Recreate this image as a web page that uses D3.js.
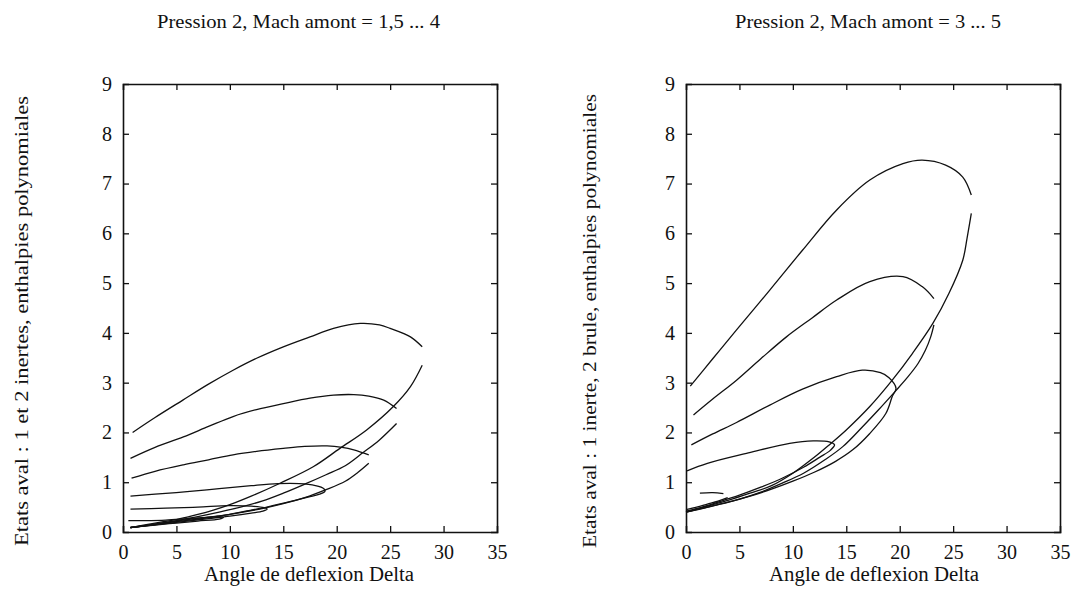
<!DOCTYPE html>
<html><head><meta charset="utf-8">
<script src="https://cdn.jsdelivr.net/npm/d3@7"></script>
<style>
html,body{margin:0;padding:0;background:#fff;}
text{font-family:"Liberation Serif","Times New Roman",serif;fill:#111;}
</style></head>
<body><svg id="chart" width="1074" height="589"></svg>
<script>
// ---------- data (deflection angle Delta, downstream state) ----------
const titleLeft = "Pression 2, Mach amont = 1,5 ... 4";
const titleRight = "Pression 2, Mach amont = 3 ... 5";
const xLabel = "Angle de deflexion Delta";
const yLabelLeft = "Etats aval : 1 et 2 inertes, enthalpies polynomiales";
const yLabelRight = "Etats aval : 1 inerte, 2 brule, enthalpies polynomiales";
const xTicks = [0, 5, 10, 15, 20, 25, 30, 35];
const yTicks = [0, 1, 2, 3, 4, 5, 6, 7, 8, 9];

// left panel: Mach 4, 3.5, 3, 2.5, 2, 1.5
const leftM4Upper = [[0.9,2.0],[3,2.3],[5.6,2.65],[8,2.97],[10.3,3.25],[12.5,3.49],[15,3.72],[17.5,3.92],[19.7,4.09],[22.2,4.19],[24,4.16],[25,4.09],[26.9,3.92],[28,3.72]];
const leftM4Lower = [[28,3.35],[26.9,2.92],[25.3,2.52],[22.8,2.05],[20.3,1.68],[17.8,1.31],[14.7,0.98],[12,0.72],[10,0.55],[8,0.41],[6,0.3],[5,0.25],[3,0.18],[0.7,0.09]];
const leftM35Upper = [[0.7,1.48],[3,1.7],[5.65,1.91],[8,2.12],[10.3,2.32],[12.5,2.46],[15,2.58],[17.5,2.69],[19.7,2.75],[21.6,2.76],[23,2.73],[24.4,2.65],[25.6,2.48]];
const leftM35Lower = [[25.6,2.18],[24,1.85],[22.5,1.6],[20.8,1.33],[19,1.15],[17,0.96],[15,0.78],[13,0.62],[11,0.5],[9,0.4],[7,0.31],[5,0.23],[3,0.16],[0.7,0.09]];
const leftM3Upper = [[0.8,1.08],[3,1.22],[5.65,1.35],[8,1.45],[10.3,1.55],[12.5,1.62],[15,1.68],[17,1.72],[19.1,1.73],[20.5,1.7],[21.6,1.65],[23,1.55]];
const leftM3Lower = [[23,1.38],[22,1.2],[20.8,1.02],[19,0.85],[17,0.69],[15,0.57],[13,0.47],[11,0.39],[9,0.32],[7,0.26],[5,0.21],[3,0.15],[0.7,0.09]];
const leftM25 = [[0.7,0.72],[3,0.76],[6,0.81],[9,0.87],[12,0.93],[14.5,0.97],[16.5,0.97],[18,0.93],[18.8,0.87],[18.9,0.82],[18.4,0.76],[17.5,0.71],[16,0.63],[14,0.53],[13,0.48],[11,0.4],[9.9,0.35],[8,0.3],[6,0.25],[4,0.19],[2,0.13],[0.7,0.09]];
const leftM2 = [[0.7,0.46],[4,0.48],[7,0.5],[9.9,0.53],[12,0.52],[13.2,0.49],[13.5,0.46],[13.1,0.42],[12,0.38],[10,0.32],[8,0.27],[6,0.22],[4,0.17],[2,0.12],[0.7,0.09]];
const leftM15 = [[0.5,0.23],[2,0.23],[4,0.24],[6,0.27],[8,0.3],[9,0.31],[9.4,0.29],[9,0.26],[7,0.22],[5,0.18],[3,0.14],[1.5,0.11],[0.7,0.09]];

// right panel: Mach 5, 4.5, 4, 3.5, 3
const rightM5Upper = [[0.4,2.93],[2.5,3.48],[4.73,4.06],[7.84,4.86],[10.9,5.66],[14.1,6.47],[17.2,7.07],[20.3,7.40],[22.1,7.47],[24.3,7.37],[25.9,7.13],[26.7,6.77]];
const rightM5Lower = [[26.7,6.40],[26.3,5.9],[25.9,5.46],[24.6,4.79],[23.1,4.19],[21.2,3.59],[19.3,3.05],[17.2,2.52],[15,2.05],[13.4,1.75],[12,1.5],[10,1.18],[8,0.93],[6,0.78],[4,0.64],[2,0.52],[0,0.40]];
const rightM45Upper = [[0.7,2.35],[2.5,2.67],[4.73,3.05],[7,3.48],[9.4,3.92],[11.8,4.3],[14.1,4.66],[17.2,5.03],[20.3,5.13],[22.1,4.93],[23.2,4.69]];
const rightM45Lower = [[23.2,4.16],[22.9,3.92],[22.4,3.65],[21.7,3.38],[20.7,3.1],[19.6,2.83],[18,2.45],[16.5,2.11],[14.7,1.72],[13,1.45],[11,1.18],[9,0.98],[7,0.8],[5,0.66],[3,0.55],[1.5,0.47],[0,0.40]];
const rightM4 = [[0.5,1.75],[2.5,1.97],[4.73,2.2],[7.84,2.55],[10.9,2.87],[14.1,3.12],[16.5,3.25],[18.2,3.2],[19.0,3.1],[19.65,2.89],[19.3,2.72],[18.7,2.38],[17.2,1.98],[15.6,1.65],[14,1.42],[12,1.2],[10,1.02],[8,0.86],[6,0.72],[4,0.6],[2,0.5],[0,0.40]];
const rightM35 = [[0.1,1.23],[2,1.38],[5.66,1.58],[9.7,1.78],[11.9,1.83],[13.4,1.81],[13.9,1.75],[13.5,1.64],[12.5,1.5],[11,1.3],[9,1.08],[7,0.9],[5,0.74],[3,0.6],[1.5,0.5],[0,0.42]];
const rightM3Upper = [[1.3,0.78],[2.5,0.79],[3.5,0.77]];
const rightM3Lower = [[3.9,0.69],[3,0.62],[2,0.56],[1,0.5],[0,0.45]];

const leftSeries = [leftM4Upper, leftM4Lower, leftM35Upper, leftM35Lower, leftM3Upper, leftM3Lower, leftM25, leftM2, leftM15];
const rightSeries = [rightM5Upper, rightM5Lower, rightM45Upper, rightM45Lower, rightM4, rightM35, rightM3Upper, rightM3Lower];

// ---------- drawing ----------
const svg = d3.select("#chart");
const panels = [
  {x0: 123, x1: 497, series: leftSeries, title: titleLeft, titleX: 157, titleLen: 283,
   yLabel: yLabelLeft, yLabelX: 28, yLabelLen: 450, xLabelX: 309},
  {x0: 686, x1: 1060, series: rightSeries, title: titleRight, titleX: 735, titleLen: 266,
   yLabel: yLabelRight, yLabelX: 596, yLabelLen: 454, xLabelX: 874}
];
const yTop = 84, yBot = 532;
const tickLen = 6;
const fontStack = '"Liberation Serif","Times New Roman",serif';

panels.forEach(p => {
  const x = d3.scaleLinear().domain([0, 35]).range([p.x0, p.x1]);
  const y = d3.scaleLinear().domain([0, 9]).range([yBot, yTop]);
  const g = svg.append("g");

  // axes with inward ticks
  const bottom = g.append("g").attr("transform", `translate(0,${yBot})`)
    .call(d3.axisBottom(x).tickValues(xTicks).tickSize(-tickLen).tickPadding(12.5).tickFormat(d3.format("d")));
  const top = g.append("g").attr("transform", `translate(0,${yTop})`)
    .call(d3.axisTop(x).tickValues(xTicks).tickSize(-tickLen).tickFormat(""));
  const left = g.append("g").attr("transform", `translate(${p.x0},0)`)
    .call(d3.axisLeft(y).tickValues(yTicks).tickSize(-tickLen).tickPadding(11).tickFormat(d3.format("d")));
  const right = g.append("g").attr("transform", `translate(${p.x1},0)`)
    .call(d3.axisRight(y).tickValues(yTicks).tickSize(-tickLen).tickFormat(""));
  [bottom, top, left, right].forEach(a => {
    a.select(".domain").attr("stroke", "#111").attr("stroke-width", 1.6);
    a.selectAll(".tick line").attr("stroke", "#111").attr("stroke-width", 1.3);
    a.selectAll(".tick text").attr("font-size", 20).attr("fill", "#111").style("font-family", fontStack);
  });
  [top, bottom].forEach(a => a.selectAll(".tick").filter(d => d === 0 || d === 35).select("line").remove());
  [left, right].forEach(a => a.selectAll(".tick").filter(d => d === 0 || d === 9).select("line").remove());

  // curves
  const line = d3.line().x(d => x(d[0])).y(d => y(d[1])).curve(d3.curveCatmullRom.alpha(0.5));
  g.append("g").selectAll("path").data(p.series).join("path")
    .attr("d", line).attr("fill", "none").attr("stroke", "#111").attr("stroke-width", 1.3);

  // texts
  g.append("text").attr("x", p.titleX).attr("y", 28).attr("font-size", 19)
    .attr("textLength", p.titleLen).attr("lengthAdjust", "spacingAndGlyphs").text(p.title);
  g.append("text").attr("x", p.xLabelX).attr("y", 581).attr("text-anchor", "middle").attr("font-size", 20)
    .attr("textLength", 210).attr("lengthAdjust", "spacingAndGlyphs").text(xLabel);
  g.append("text").attr("transform", `translate(${p.yLabelX},321) rotate(-90)`).attr("text-anchor", "middle")
    .attr("font-size", 19).attr("textLength", p.yLabelLen).attr("lengthAdjust", "spacingAndGlyphs").text(p.yLabel);
});
</script></body></html>
